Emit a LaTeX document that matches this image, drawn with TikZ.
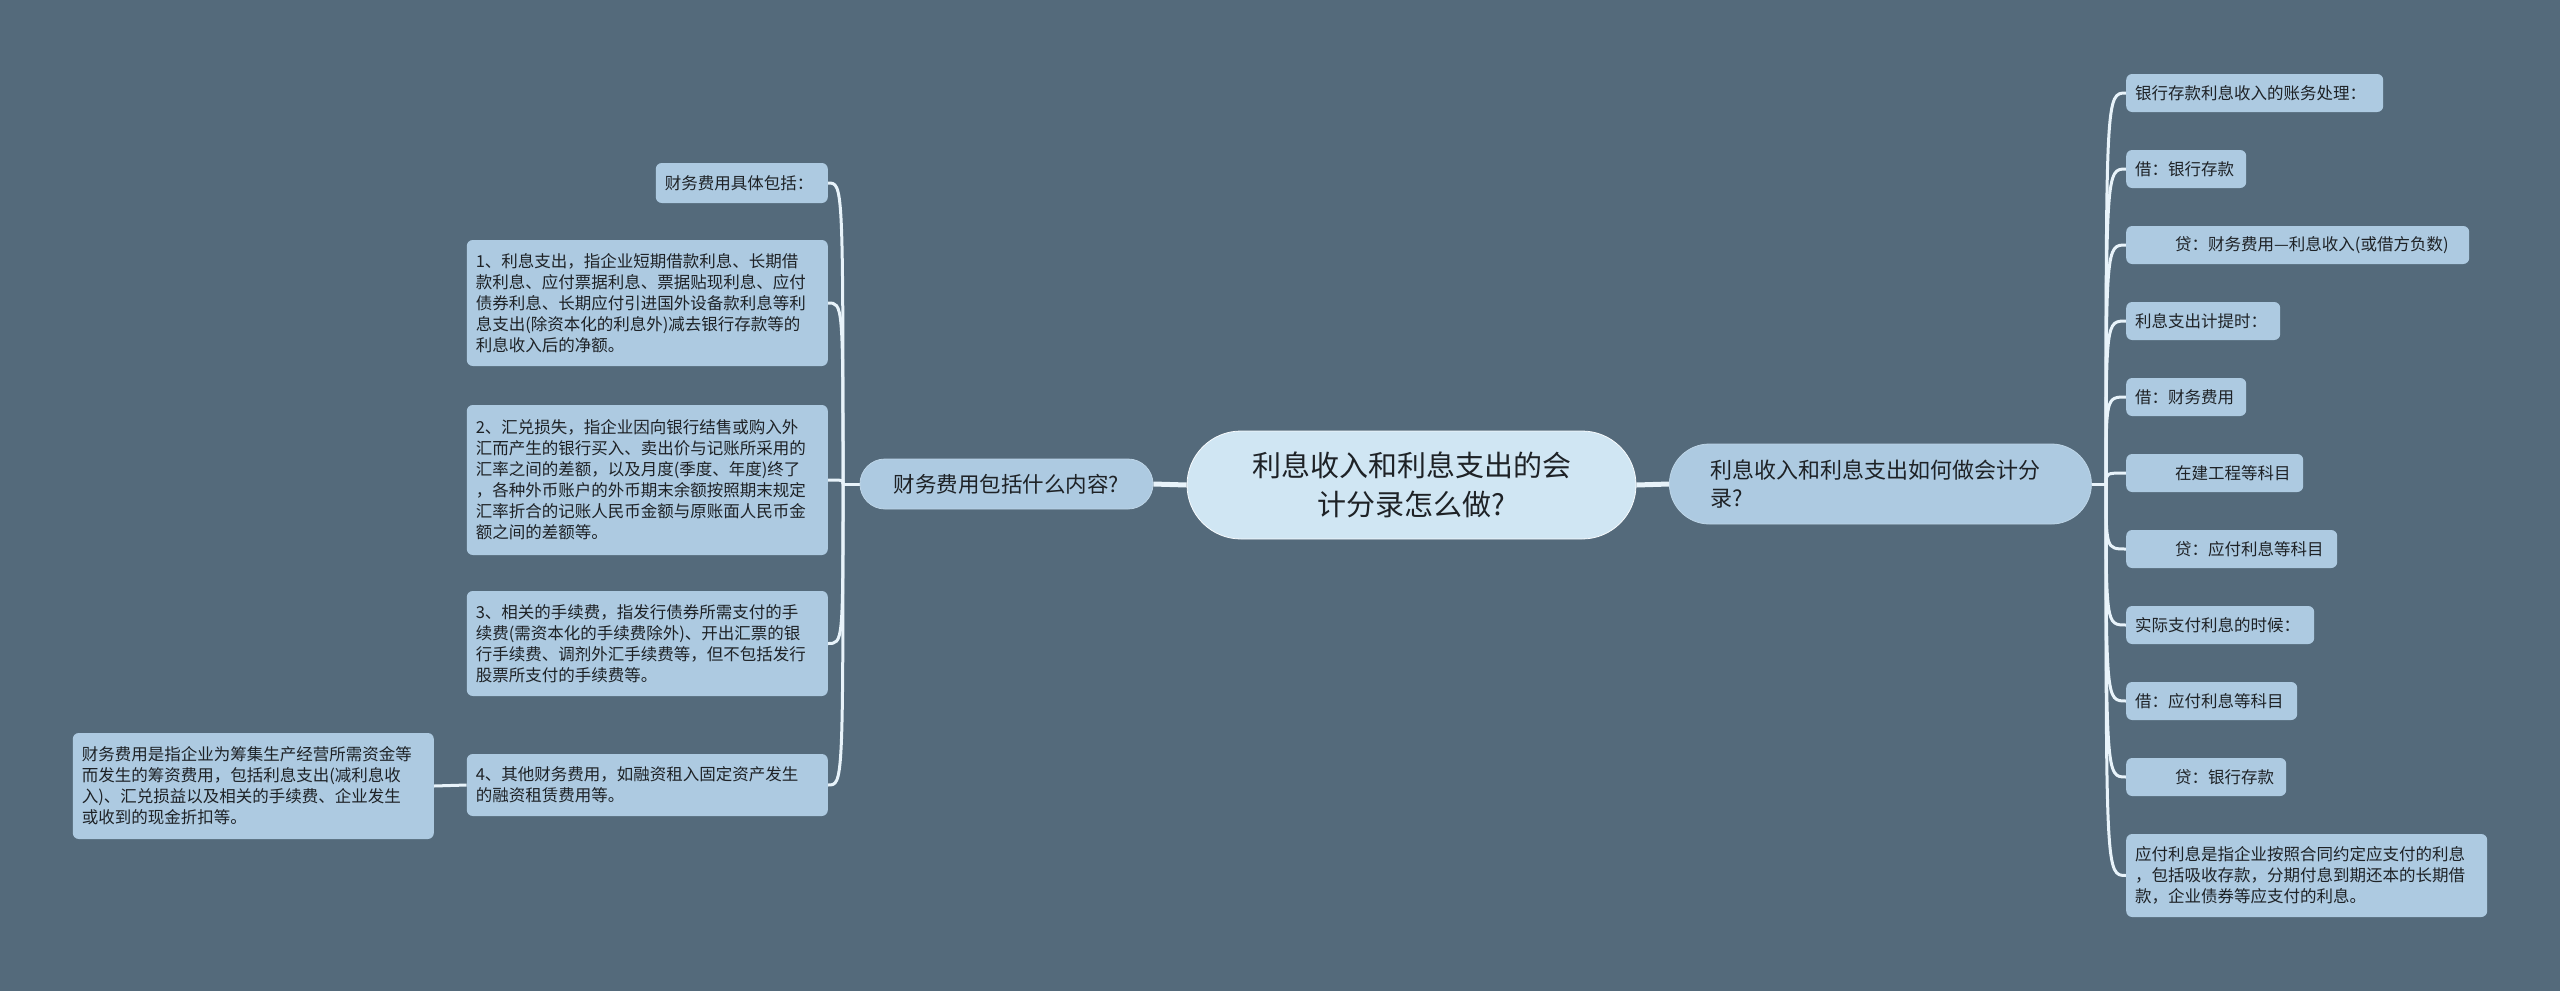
\documentclass[tikz,border=0pt]{standalone}
\usepackage{fontspec}
\newfontfamily\cjk{Noto Sans CJK SC}
\definecolor{bgc}{RGB}{84,106,123}
\definecolor{boxc}{RGB}{173,202,225}
\definecolor{centerc}{RGB}{208,230,243}
\definecolor{linec}{RGB}{232,243,250}
\definecolor{txt}{RGB}{30,34,38}
\pgfdeclarelayer{back}
\pgfdeclarelayer{bg}
\pgfsetlayers{back,bg,main}
\tikzset{
  leaf/.style={fill=boxc, rounded corners=6pt, inner xsep=9pt, inner ysep=0pt,
    align=left, text=txt, font=\cjk\fontsize{16.5pt}{21pt}\selectfont},
  mainnode/.style={fill=boxc, draw=boxc!80!white, line width=0.8pt, inner ysep=0pt, text=txt},
  branch/.style={draw=linec, line width=3pt},
  trunk/.style={draw=linec, line width=5pt},
}
\begin{document}
\begin{tikzpicture}[x=1pt,y=-1pt]
\begin{pgfonlayer}{back}
\fill[bgc] (0,0) rectangle (2560,991);
\end{pgfonlayer}
\useasboundingbox (0,0) rectangle (2560,991);

% central
\node[mainnode, fill=centerc, draw=white!85!centerc, minimum width=449pt, minimum height=108pt,
  rounded corners=54pt, align=center, font=\cjk\fontsize{29pt}{39pt}\selectfont]
  (center) at (1411.5,485) {利息收入和利息支出的会\\计分录怎么做?};

% left main
\node[mainnode, minimum width=293pt, minimum height=50pt, rounded corners=25pt,
  font=\cjk\fontsize{21.5pt}{28pt}\selectfont]
  (lmain) at (1006.5,484) {财务费用包括什么内容?};

% right main
\node[mainnode, anchor=west, inner xsep=41pt, text width=340pt, minimum height=80pt,
  rounded corners=40pt, align=left, font=\cjk\fontsize{22pt}{28pt}\selectfont]
  (rmain) at (1669,484) {利息收入和利息支出如何做会计分\\录?};

% left children
\node[leaf, anchor=east, text width=154pt, minimum height=40pt] (l0) at (828,183) {财务费用具体包括：};
\node[leaf, anchor=east, text width=343pt, minimum height=126pt] (l1) at (828,303)
 {1、利息支出，指企业短期借款利息、长期借\\款利息、应付票据利息、票据贴现利息、应付\\债券利息、长期应付引进国外设备款利息等利\\息支出(除资本化的利息外)减去银行存款等的\\利息收入后的净额。};
\node[leaf, anchor=east, text width=343pt, minimum height=150pt] (l2) at (828,480)
 {2、汇兑损失，指企业因向银行结售或购入外\\汇而产生的银行买入、卖出价与记账所采用的\\汇率之间的差额，以及月度(季度、年度)终了\\，各种外币账户的外币期末余额按照期末规定\\汇率折合的记账人民币金额与原账面人民币金\\额之间的差额等。};
\node[leaf, anchor=east, text width=343pt, minimum height=105pt] (l3) at (828,643.5)
 {3、相关的手续费，指发行债券所需支付的手\\续费(需资本化的手续费除外)、开出汇票的银\\行手续费、调剂外汇手续费等，但不包括发行\\股票所支付的手续费等。};
\node[leaf, anchor=east, text width=343pt, minimum height=62pt] (l4) at (828,785)
 {4、其他财务费用，如融资租入固定资产发生\\的融资租赁费用等。};
\node[leaf, anchor=east, text width=343pt, minimum height=106pt] (ll) at (434,786)
 {财务费用是指企业为筹集生产经营所需资金等\\而发生的筹资费用，包括利息支出(减利息收\\入)、汇兑损益以及相关的手续费、企业发生\\或收到的现金折扣等。};

% right children
\node[leaf, anchor=west, text width=239pt, minimum height=38pt] (r1) at (2126,93) {银行存款利息收入的账务处理：};
\node[leaf, anchor=west, text width=102pt, minimum height=38pt] (r2) at (2126,169) {借：银行存款};
\node[leaf, anchor=west, text width=325pt, minimum height=38pt] (r3) at (2126,245) {\hspace*{40pt}贷：财务费用—利息收入(或借方负数)};
\node[leaf, anchor=west, text width=136pt, minimum height=38pt] (r4) at (2126,321) {利息支出计提时：};
\node[leaf, anchor=west, text width=102pt, minimum height=38pt] (r5) at (2126,397) {借：财务费用};
\node[leaf, anchor=west, text width=159pt, minimum height=38pt] (r6) at (2126,473) {\hspace*{40pt}在建工程等科目};
\node[leaf, anchor=west, text width=193pt, minimum height=38pt] (r7) at (2126,549) {\hspace*{40pt}贷：应付利息等科目};
\node[leaf, anchor=west, text width=170pt, minimum height=38pt] (r8) at (2126,625) {实际支付利息的时候：};
\node[leaf, anchor=west, text width=153pt, minimum height=38pt] (r9) at (2126,701) {借：应付利息等科目};
\node[leaf, anchor=west, text width=142pt, minimum height=38pt] (r10) at (2126,777) {\hspace*{40pt}贷：银行存款};
\node[leaf, anchor=west, text width=343pt, minimum height=83pt] (r11) at (2126,875.5)
 {应付利息是指企业按照合同约定应支付的利息\\，包括吸收存款，分期付息到期还本的长期借\\款，企业债券等应支付的利息。};

\coordinate (lhub) at (843,484);
\coordinate (rhub) at (2106,484);

\begin{pgfonlayer}{bg}
\draw[trunk] (center.west) -- (lmain.east);
\draw[trunk] (center.east) -- (rmain.west);
\draw[branch] (lmain.west) -- (lhub);
\draw[branch] (rmain.east) -- (rhub);
\foreach \c in {l0,l1,l2,l3,l4}
  \draw[branch] (lhub) .. controls (lhub |- \c.east) .. (\c.east);
\foreach \c in {r1,r2,r3,r4,r5,r6,r7,r8,r9,r10,r11}
  \draw[branch] (rhub) .. controls (rhub |- \c.west) .. (\c.west);
\draw[branch] (l4.west) -- (ll.east);
\end{pgfonlayer}
\end{tikzpicture}
\end{document}
